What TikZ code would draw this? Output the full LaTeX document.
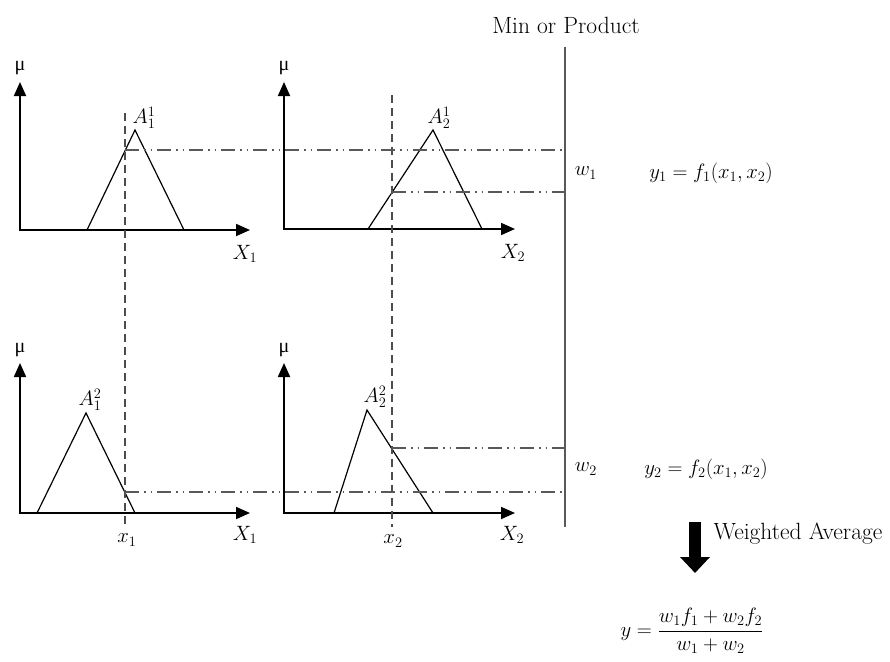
\documentclass[tikz,border=0pt]{standalone}
\usepackage{fontspec}
\newfontfamily\grfont{Liberation Serif}
\usetikzlibrary{arrows.meta}
\begin{document}
\begin{tikzpicture}[x=1pt,y=-1pt,
  every node/.style={font=\fontsize{21}{25}\selectfont, inner sep=0pt},
  wordlab/.style={font=\fontsize{23.5}{28}\selectfont},
  axis/.style={line width=1.8pt, line join=miter, {Triangle[length=14pt,width=12pt]}-{Triangle[length=14pt,width=12pt]}},
  mf/.style={line width=1.2pt, line join=miter},
  vguide/.style={line width=1.6pt, draw=black!70, dash pattern=on 8pt off 5pt},
  hguide/.style={line width=1.5pt, draw=black!65, dash pattern=on 14pt off 5pt on 1.5pt off 5pt on 1.5pt off 5pt},
  rulel/.style={line width=1.5pt, draw=black!65},
  mulab/.style={font=\grfont\fontsize{20}{24}\selectfont},
  bigarrow/.style={line width=12pt, -{Triangle[length=16pt,width=29pt]}},
]
\useasboundingbox (0,0) rectangle (890,661);

% ---- plot 1 (top left)
\coordinate (t1) at (20,82); \coordinate (o1) at (20,230); \coordinate (e1) at (250,230);
\draw[axis] (t1) -- (o1) -- (e1);
\coordinate (a1l) at (87,230); \coordinate (a1p) at (135,130); \coordinate (a1r) at (184,230);
\draw[mf] (a1l) -- (a1p) -- (a1r);
\node[mulab] (mu1) at (20,68) {μ};
\node (A11) at (144,118) {$A_1^1$};
\node (X1t) at (245,254) {$X_1$};

% ---- plot 2 (top right)
\coordinate (t2) at (284,82); \coordinate (o2) at (284,229); \coordinate (e2) at (515,229);
\draw[axis] (t2) -- (o2) -- (e2);
\coordinate (a2l) at (368,229); \coordinate (a2p) at (433,130); \coordinate (a2r) at (482,229);
\draw[mf] (a2l) -- (a2p) -- (a2r);
\node[mulab] (mu2) at (284,68) {μ};
\node (A21) at (439,118) {$A_2^1$};
\node (X2t) at (513,253) {$X_2$};

% ---- plot 3 (bottom left)
\coordinate (t3) at (20,363); \coordinate (o3) at (20,513); \coordinate (e3) at (250,513);
\draw[axis] (t3) -- (o3) -- (e3);
\coordinate (a3l) at (37,513); \coordinate (a3p) at (86,413); \coordinate (a3r) at (135,513);
\draw[mf] (a3l) -- (a3p) -- (a3r);
\node[mulab] (mu3) at (20,350) {μ};
\node (A12) at (90,400) {$A_1^2$};
\node (X1b) at (245,535) {$X_1$};
\node (x1) at (127,540) {$x_1$};

% ---- plot 4 (bottom right)
\coordinate (t4) at (284,363); \coordinate (o4) at (284,513); \coordinate (e4) at (515,513);
\draw[axis] (t4) -- (o4) -- (e4);
\coordinate (a4l) at (334,513); \coordinate (a4p) at (367,410); \coordinate (a4r) at (433,513);
\draw[mf] (a4l) -- (a4p) -- (a4r);
\node[mulab] (mu4) at (284,350) {μ};
\node (A22) at (375,397) {$A_2^2$};
\node (X2b) at (512,535) {$X_2$};
\node (x2) at (393,541) {$x_2$};

% ---- input guides
\coordinate (g1t) at (125,113); \coordinate (g1b) at (125,527);
\coordinate (g2t) at (392,95);  \coordinate (g2b) at (392,527);
\draw[vguide] (g1t) -- (g1b);
\draw[vguide] (g2t) -- (g2b);

% ---- rule line
\coordinate (rt) at (565,47); \coordinate (rb) at (565,527);
\draw[rulel] (rt) -- (rb);
\node[wordlab] (minprod) at (566,25) {Min or Product};

% ---- membership levels
\coordinate (h1s) at (125,150); \coordinate (h1e) at (564,150);
\coordinate (h2s) at (392,192); \coordinate (h2e) at (564,192);
\coordinate (h3s) at (392,448); \coordinate (h3e) at (564,448);
\coordinate (h4s) at (125,492); \coordinate (h4e) at (564,492);
\draw[hguide] (h1s) -- (h1e);
\draw[hguide] (h2s) -- (h2e);
\draw[hguide] (h3s) -- (h3e);
\draw[hguide] (h4s) -- (h4e);

% ---- rule outputs
\node (w1) at (586,173) {$w_1$};
\node (y1) at (711,173) {$y_1 = f_1(x_1, x_2)$};
\node (w2) at (586,469) {$w_2$};
\node (y2) at (706,469) {$y_2 = f_2(x_1, x_2)$};

% ---- weighted average
\coordinate (bas) at (695,522); \coordinate (bae) at (695,573);
\draw[bigarrow] (bas) -- (bae);
\node[wordlab] (wa) at (798,534) {Weighted Average};
\node (yout) at (692,631) {$\displaystyle y = \frac{w_1 f_1 + w_2 f_2}{w_1 + w_2}$};
\end{tikzpicture}
\end{document}
